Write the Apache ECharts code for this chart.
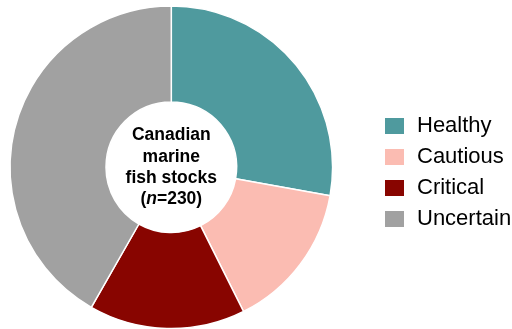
<!DOCTYPE html>
<html><head><meta charset="utf-8">
<script src="https://cdn.jsdelivr.net/npm/echarts@6/dist/echarts.min.js"></script>
<style>html,body{margin:0;padding:0;background:#fff}#c{width:512px;height:329px}</style>
</head><body><div id="c"></div>
<script>
const categories = ['Healthy', 'Cautious', 'Critical', 'Uncertain'];
const values = [64, 34, 36, 96];
const colors = ['#4f9a9e', '#fbbcb2', '#880500', '#a1a1a1'];
const centerLines = ['Canadian', 'marine', 'fish stocks'];
const nTotal = 230;

const chart = echarts.init(document.getElementById('c'), null, {renderer: 'canvas'});
chart.setOption({
  animation: false,
  color: colors,
  legend: {
    orient: 'vertical', left: 383, top: 115, padding: 0,
    itemWidth: 21, itemHeight: 18, itemGap: 9,
    icon: 'rect',
    textStyle: {fontFamily: 'Liberation Sans, Arial, sans-serif', fontSize: 22, lineHeight: 22, color: '#000', padding: [0,0,0,7]},
    data: categories
  },
  series: [{
    type: 'pie',
    center: [171.3, 167.3],
    radius: [65.3, 161.3],
    startAngle: 90,
    clockwise: true,
    label: {show: false},
    labelLine: {show: false},
    itemStyle: {borderColor: '#fff', borderWidth: 1.5},
    emphasis: {disabled: true},
    data: categories.map((c, i) => ({name: c, value: values[i]}))
  }],
  graphic: [{
    type: 'text',
    x: 171.3, y: 167.5,
    style: {
      text: centerLines.map(l => '{b|' + l + '}').join('\n') + '\n{b|(}{i|n}{b|=' + nTotal + ')}',
      align: 'center', verticalAlign: 'middle',
      fill: '#000',
      rich: {
        b: {fontFamily: 'Liberation Sans, Arial, sans-serif', fontWeight: 'bold', fontSize: 17.5, lineHeight: 21.3, fill: '#000', color: '#000'},
        i: {fontFamily: 'Liberation Sans, Arial, sans-serif', fontWeight: 'bold', fontStyle: 'italic', fontSize: 17.5, lineHeight: 21.3, fill: '#000', color: '#000'}
      }
    }
  }]
});
</script></body></html>
